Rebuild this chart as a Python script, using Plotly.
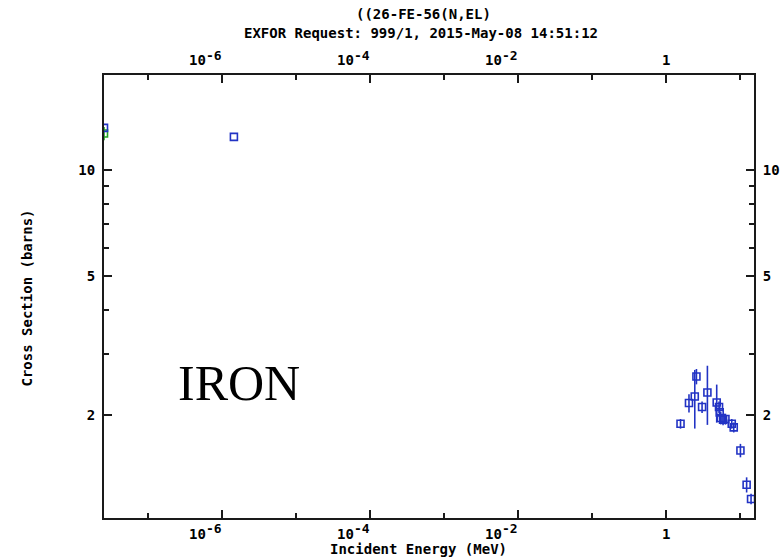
import plotly.graph_objects as go

# ---------------- data ----------------
blue_energy_mev = [2.53e-8, 1.44e-6, 1.56, 2.03, 2.43, 2.56, 3.05, 3.60, 4.81, 5.17,
                   5.28, 5.45, 5.86, 6.31, 7.68, 8.17, 10.06, 12.2, 14.0]
blue_xs_barns = [13.17, 12.41, 1.894, 2.169, 2.265, 2.582, 2.113, 2.325, 2.178, 2.113,
                 2.040, 1.966, 1.945, 1.953, 1.894, 1.849, 1.590, 1.270, 1.157]
blue_err_barns = [0.0, 0.0, 0.06, 0.13, 0.43, 0.13, 0.08, 0.445, 0.27, 0.08,
                  0.08, 0.08, 0.07, 0.07, 0.06, 0.06, 0.07, 0.063, 0.04]

green_energy_mev = [2.53e-8]
green_xs_barns = [12.69]
green_err_barns = [0.55]

x_major_vals = [1e-6, 1e-4, 1e-2, 1]
x_major_base = ["10", "10", "10", "1"]
x_major_exp = ["-6", "-4", "-2", ""]
x_minor_vals = [1e-7, 1e-5, 1e-3, 1e-1, 10]
y_major_vals = [2, 5, 10]
y_major_text = ["2", "5", "10"]
y_minor_vals = [3, 4, 6, 7, 8, 9]

title_line1 = "((26-FE-56(N,EL)"
title_line2 = "EXFOR Request: 999/1, 2015-May-08 14:51:12"
x_title = "Incident Energy (MeV)"
y_title = "Cross Section (barns)"
label_text = "IRON"

# ---------------- style ----------------
BLUE = "#2233c4"
GREEN = "#22a622"
AXC = "#1a1a1a"
MONO = "DejaVu Sans Mono"
NBSP = "\u00a0"

x_range = [-7.597, 1.186]
y_range = [0.0091, 1.270]


def tick_label(base, exp):
    if not exp:
        return base
    return (base + "<sup><span style='font-size:13px'>" + exp + "</span></sup>"
            + NBSP * 4)


x_major_text = [tick_label(b, e) for b, e in zip(x_major_base, x_major_exp)]

tickfont = dict(family=MONO, size=14, color="black", weight="bold")

fig = go.Figure()
fig.add_trace(go.Scatter(
    x=green_energy_mev, y=green_xs_barns, mode="markers",
    marker=dict(symbol="square-open", size=7, color=GREEN, line=dict(width=1.6, color=GREEN)),
    error_y=dict(type="data", array=green_err_barns, color=GREEN, thickness=1.6, width=0),
    showlegend=False))
fig.add_trace(go.Scatter(
    x=blue_energy_mev, y=blue_xs_barns, mode="markers",
    marker=dict(symbol="square-open", size=7, color=BLUE, line=dict(width=1.6, color=BLUE)),
    error_y=dict(type="data", array=blue_err_barns, color=BLUE, thickness=1.6, width=0),
    showlegend=False))
fig.add_trace(go.Scatter(x=[], y=[], xaxis="x2", yaxis="y2", showlegend=False))

common_x = dict(type="log", range=x_range, tickmode="array", tickvals=x_major_vals,
                ticktext=x_major_text, ticks="inside", ticklen=8, tickwidth=1.5,
                tickcolor=AXC, showline=True, linecolor=AXC, linewidth=2,
                showgrid=False, zeroline=False, tickfont=tickfont, automargin=False,
                minor=dict(tickmode="array", tickvals=x_minor_vals, ticks="inside",
                           ticklen=5, tickwidth=1.5, tickcolor=AXC, showgrid=False))
common_y = dict(type="log", range=y_range, tickmode="array", tickvals=y_major_vals,
                ticktext=y_major_text, ticks="inside", ticklen=8, tickwidth=1.5,
                tickcolor=AXC, showline=True, linecolor=AXC, linewidth=2,
                showgrid=False, zeroline=False, tickfont=tickfont, automargin=False,
                minor=dict(tickmode="array", tickvals=y_minor_vals, ticks="inside",
                           ticklen=5, tickwidth=1.5, tickcolor=AXC, showgrid=False))

fig.update_layout(
    width=784, height=559,
    margin=dict(l=104, r=30, t=75, b=41),
    paper_bgcolor="white", plot_bgcolor="white",
    xaxis=dict(**common_x, side="bottom", ticklabelstandoff=2),
    xaxis2=dict(**common_x, side="top", overlaying="x", anchor="y", ticklabelstandoff=2),
    yaxis=dict(**common_y, side="left", ticklabelstandoff=4),
    yaxis2=dict(**common_y, side="right", overlaying="y", anchor="x", ticklabelstandoff=4),
    annotations=[
        dict(text=title_line1, xref="paper", yref="paper", x=0.491, y=1.1377,
             showarrow=False, xanchor="center", yanchor="middle",
             font=dict(family=MONO, size=14, color="black", weight="bold")),
        dict(text=title_line2, xref="paper", yref="paper", x=0.487, y=1.0948,
             showarrow=False, xanchor="center", yanchor="middle",
             font=dict(family=MONO, size=14, color="black", weight="bold")),
        dict(text=x_title, xref="paper", yref="paper", x=0.4846, y=-0.07,
             showarrow=False, xanchor="center", yanchor="middle",
             font=dict(family=MONO, size=14, color="black", weight="bold")),
        dict(text=y_title, xref="paper", yref="paper", x=-0.1177, y=0.4966,
             showarrow=False, xanchor="center", yanchor="middle", textangle=-90,
             font=dict(family=MONO, size=14, color="black", weight="bold")),
        dict(text=label_text, xref="paper", yref="paper", x=(239 - 104) / 650,
             y=(518 - 383) / 443, showarrow=False, xanchor="center", yanchor="middle",
             font=dict(family="Liberation Serif", size=50, color="black")),
    ],
)

fig.write_html("out.html")
